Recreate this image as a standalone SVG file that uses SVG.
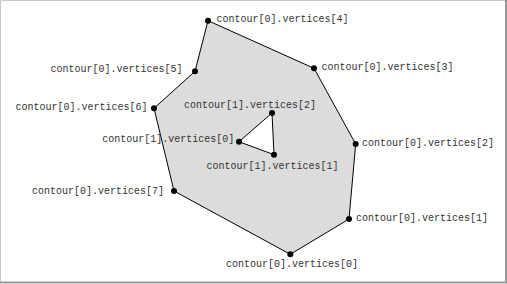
<svg xmlns="http://www.w3.org/2000/svg" width="507" height="284" viewBox="0 0 507 284">
<style>
.lbl{font-family:"Liberation Mono","Courier New",monospace;font-size:10px;fill:#333}
.dot{fill:#000}
</style>
<rect x="0" y="0" width="507" height="284" fill="#fff"/>
<g id="frame">
<path d="M0.5,282 V0.5 H505" fill="none" stroke="#c8c8c8" stroke-width="1"/>
<path d="M506,0 V282.5 H0" fill="none" stroke="#999" stroke-width="2"/>
</g>
<g id="connectors">
<path d="M290.3,254.3 L349,219 L355.7,144 L314,68.3 L208,20.7 L195,71.3 L154,108.3 L174,191 Z M239,141.7 L274,154.7 L272,113 Z" fill="#dcdcdc" fill-rule="evenodd" stroke="#000" stroke-width="1" stroke-linejoin="round"/>
</g>
<g id="c0v0"><circle class="dot" cx="290.3" cy="254.3" r="3"/><text class="lbl" x="226" y="267">contour[0].vertices[0]</text></g>
<g id="c0v1"><circle class="dot" cx="349" cy="219" r="3"/><text class="lbl" x="356" y="221">contour[0].vertices[1]</text></g>
<g id="c0v2"><circle class="dot" cx="355.7" cy="144" r="3"/><text class="lbl" x="362" y="146">contour[0].vertices[2]</text></g>
<g id="c0v3"><circle class="dot" cx="314" cy="68.3" r="3"/><text class="lbl" x="321.5" y="70">contour[0].vertices[3]</text></g>
<g id="c0v4"><circle class="dot" cx="208" cy="20.7" r="3"/><text class="lbl" x="216.5" y="22">contour[0].vertices[4]</text></g>
<g id="c0v5"><circle class="dot" cx="195" cy="71.3" r="3"/><text class="lbl" x="50.5" y="72">contour[0].vertices[5]</text></g>
<g id="c0v6"><circle class="dot" cx="154" cy="108.3" r="3"/><text class="lbl" x="15.5" y="110">contour[0].vertices[6]</text></g>
<g id="c0v7"><circle class="dot" cx="174" cy="191" r="3"/><text class="lbl" x="32" y="193.5">contour[0].vertices[7]</text></g>
<g id="c1v0"><circle class="dot" cx="239" cy="141.7" r="3"/><text class="lbl" x="102.3" y="142">contour[1].vertices[0]</text></g>
<g id="c1v1"><circle class="dot" cx="274" cy="154.7" r="3"/><text class="lbl" x="206.5" y="168.5">contour[1].vertices[1]</text></g>
<g id="c1v2"><circle class="dot" cx="272" cy="113" r="3"/><text class="lbl" x="184" y="108">contour[1].vertices[2]</text></g>
</svg>
